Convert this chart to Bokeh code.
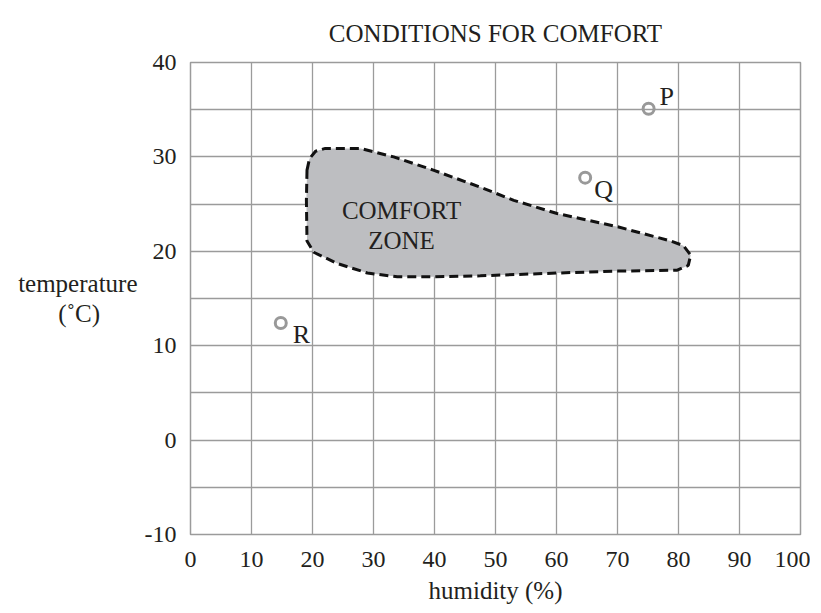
from bokeh.plotting import figure
from bokeh.models import Range1d, FixedTicker, Label, ColumnDataSource
from bokeh.core.properties import value
from bokeh.embed import file_html
from bokeh.resources import INLINE

# ---- data ----
x_ticks = [0, 10, 20, 30, 40, 50, 60, 70, 80, 90, 100]
y_ticks = [-10, 0, 10, 20, 30, 40]
y_grid_lines = [-10, -5, 0, 5, 10, 15, 20, 25, 30, 35, 40]

# comfort zone outline (humidity %, temperature C), clockwise from left side
zone_humidity = [19.1, 19.5, 20.5, 22.1, 24.1, 27.9, 33.3, 39.8, 47.5, 53.0,
                 60.1, 70.0, 78.7, 80.8, 82.0, 81.6, 79.8, 70.0, 60.1, 47.5,
                 39.8, 33.9, 29.0, 24.1, 20.2, 19.1, 19.0]
zone_temp = [28.6, 29.8, 30.6, 30.9, 30.9, 30.9, 30.0, 28.6, 26.8, 25.4,
             24.0, 22.6, 21.1, 20.6, 19.6, 18.5, 18.0, 17.9, 17.7, 17.4,
             17.3, 17.3, 17.7, 18.7, 19.9, 21.1, 25.4]

point_names = ["P", "Q", "R"]
point_humidity = [75.1, 64.7, 14.8]
point_temp = [35.1, 27.8, 12.4]

zone_label_lines = ["COMFORT", "ZONE"]

# ---- style ----
FONT = "Liberation Serif"
TXT = "#231f20"
GRID = "#9b9b9b"
label_dx = [11, 9, 12]
label_dy = [-12, 12, 11]
NBSP = "\u00a0"

p = figure(width=810, height=612,
           x_range=Range1d(0, 100), y_range=Range1d(-10, 40),
           output_backend="svg", toolbar_location=None,
           min_border_left=190, min_border_right=10,
           min_border_top=62, min_border_bottom=78,
           title="CONDITIONS FOR COMFORT")

p.background_fill_color = "white"
p.border_fill_color = "white"
p.outline_line_color = GRID
p.outline_line_width = 1.5

p.title.align = "center"
p.title.text_font = FONT
p.title.text_font_size = "25px"
p.title.text_font_style = "normal"
p.title.text_color = TXT
p.title.standoff = 31

# axes
p.xaxis.ticker = FixedTicker(ticks=x_ticks)
p.yaxis.ticker = FixedTicker(ticks=y_ticks)
p.yaxis.major_label_overrides = {-10: "-10"}
for ax in (p.xaxis, p.yaxis):
    ax.axis_line_color = None
    ax.major_tick_line_color = None
    ax.minor_tick_line_color = None
    ax.major_label_text_font = FONT
    ax.major_label_text_font_size = "24px"
    ax.major_label_text_color = TXT
p.xaxis.major_label_standoff = 11
p.yaxis.major_label_standoff = 8
p.xaxis.axis_label = "humidity (%)"
p.xaxis.axis_label_standoff = 7

for ax in (p.xaxis, p.yaxis):
    ax.axis_label_text_font = FONT
    ax.axis_label_text_font_size = "25px"
    ax.axis_label_text_font_style = "normal"
    ax.axis_label_text_color = TXT

try:
    p.yaxis.axis_label_orientation = "horizontal"
    p.yaxis.axis_label = "temperature\n(˚C)" + NBSP * 6
    p.yaxis.axis_label_standoff = 4
    p.yaxis.axis_label_text_line_height = 1.1
except AttributeError:
    p.add_layout(Label(x=-18.85, y=16.27, text="temperature", text_align="center",
                       text_baseline="alphabetic", text_font=FONT,
                       text_font_size="25px", text_color=TXT))
    p.add_layout(Label(x=-18.85, y=13.2, text="(˚C)", text_align="center",
                       text_baseline="alphabetic", text_font=FONT,
                       text_font_size="25px", text_color=TXT))

# grids
p.xgrid.ticker = FixedTicker(ticks=x_ticks)
p.ygrid.ticker = FixedTicker(ticks=y_grid_lines)
for g in (p.xgrid, p.ygrid):
    g.grid_line_color = GRID
    g.grid_line_width = 1.3

# comfort zone
p.patch(zone_humidity, zone_temp, fill_color="#bdbec1", line_color="#111111",
        line_width=3, line_dash="9 5")
p.text(x=[34.6, 34.6], y=[24.3, 21.1], text=zone_label_lines,
       text_align="center", text_baseline="alphabetic",
       text_font=value(FONT), text_font_size="25px", text_color=TXT)

# points
src = ColumnDataSource(dict(x=point_humidity, y=point_temp, name=point_names,
                            dx=label_dx, dy=label_dy))
p.scatter("x", "y", source=src, marker="circle", size=11, fill_color=None,
          line_color="#999999", line_width=3)
p.text("x", "y", text="name", source=src, x_offset="dx", y_offset="dy",
       text_align="left", text_baseline="alphabetic",
       text_font=value(FONT), text_font_size="26px", text_color=TXT)

open("out.html", "w").write(file_html(p, INLINE))
